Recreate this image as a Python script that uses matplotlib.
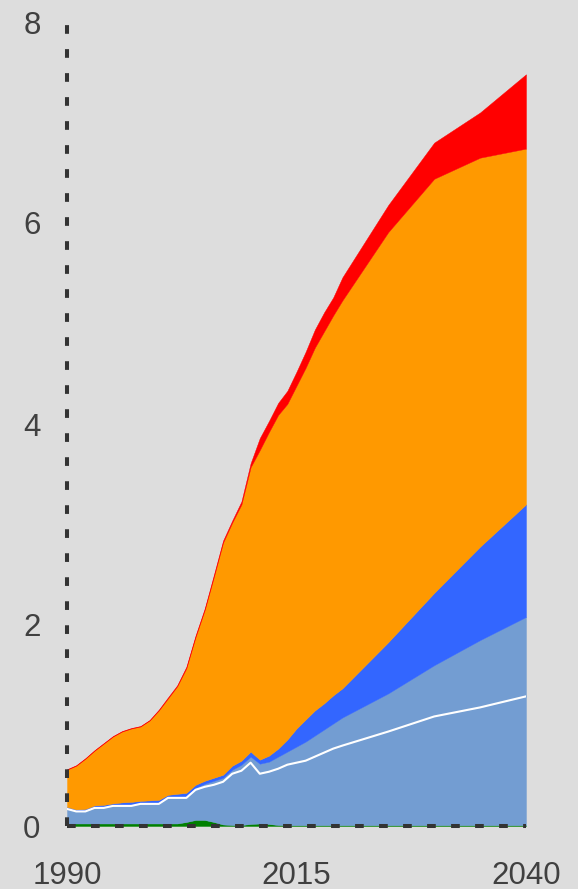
import matplotlib
matplotlib.use("Agg")
import matplotlib.pyplot as plt
import numpy as np

years = list(range(1990, 2021)) + [2025, 2030, 2035, 2040]

green = [0.025] * 13 + [0.04, 0.06, 0.06, 0.04, 0.015, 0.01, 0.01, 0.02, 0.025, 0.02, 0.01] + [0.008] * 11

light_blue_1 = [0.145, 0.12, 0.12, 0.155, 0.155, 0.175, 0.175, 0.175, 0.195, 0.195, 0.195,
                0.255, 0.255, 0.24, 0.30, 0.33, 0.37, 0.425, 0.51, 0.54, 0.61,
                0.495, 0.52, 0.56, 0.602, 0.622, 0.642, 0.682, 0.722, 0.762, 0.792,
                0.932, 1.082, 1.172, 1.282]

light_blue_2 = [0.01] * 14 + [0.02, 0.03, 0.04, 0.04, 0.04, 0.06, 0.06,
                              0.10, 0.10, 0.12, 0.13, 0.16, 0.19, 0.21, 0.23, 0.25, 0.28,
                              0.38, 0.51, 0.67, 0.79]

blue = [0.01, 0.01, 0.015, 0.015, 0.02, 0.015, 0.025, 0.03, 0.02, 0.025, 0.03,
        0.02, 0.03, 0.04, 0.03, 0.03, 0.03, 0.03, 0.04, 0.04, 0.05,
        0.04, 0.06, 0.08, 0.12, 0.18, 0.22, 0.25, 0.26, 0.28, 0.29,
        0.51, 0.72, 0.93, 1.12]

orange = [0.37, 0.435, 0.50, 0.545, 0.61, 0.665, 0.705, 0.73, 0.74, 0.795, 0.89,
          0.96, 1.07, 1.24, 1.47, 1.70, 2.00, 2.31, 2.42, 2.55, 2.83,
          3.08, 3.22, 3.32, 3.34, 3.41, 3.50, 3.61, 3.70, 3.78, 3.86,
          4.08, 4.12, 3.87, 3.54]

red = [0.005] * 10 + [0.008, 0.01, 0.01, 0.015, 0.015, 0.015, 0.02, 0.02, 0.02, 0.03, 0.04,
                      0.12, 0.11, 0.12, 0.13, 0.14, 0.16, 0.18, 0.19, 0.18, 0.23,
                      0.27, 0.36, 0.45, 0.74]

x_ticks = [1990, 2015, 2040]
y_ticks = [0, 2, 4, 6, 8]

series = [green, light_blue_1, light_blue_2, blue, orange, red]
colors = ["#008000", "#739dd2", "#739dd2", "#3366ff", "#ff9900", "#ff0000"]

bg = "#dddddd"
fig = plt.figure(figsize=(5.78, 8.89), dpi=100, facecolor=bg)
ax = fig.add_axes([67 / 578, 63 / 889, (526 - 67) / 578, (826 - 22) / 889])
ax.set_facecolor(bg)

x = np.array(years, dtype=float)
base = np.zeros(len(x))
for vals, c in zip(series, colors):
    top = base + np.array(vals)
    ax.fill_between(x, base, top, facecolor=c, edgecolor=c, linewidth=0.3, zorder=1)
    base = top

white_line = np.array(green) + np.array(light_blue_1)
ax.plot(x, white_line, color="white", linewidth=1.5, zorder=1.5)

ax.set_xlim(1990, 2040)
ax.set_ylim(0, 8)
ax.set_xticks(x_ticks)
ax.set_yticks(y_ticks)
ax.set_xticklabels([str(t) for t in x_ticks])
ax.set_yticklabels([str(t) for t in y_ticks])

for s in ["top", "right"]:
    ax.spines[s].set_visible(False)
for s in ["left", "bottom"]:
    sp = ax.spines[s]
    sp.set_color("#333333")
    sp.set_linewidth(2.9)
    sp.set_linestyle((0, (2.16, 3.8)))
    sp.set_capstyle("butt")
    sp.set_zorder(3)

txt = "#404040"
ax.tick_params(axis="both", length=0, labelsize=22.5, labelcolor=txt)
ax.tick_params(axis="y", pad=19)
ax.tick_params(axis="x", pad=25)
for lab in ax.get_xticklabels() + ax.get_yticklabels():
    lab.set_fontfamily("Liberation Sans")

fig.savefig("out.png", dpi=100, facecolor=bg)
